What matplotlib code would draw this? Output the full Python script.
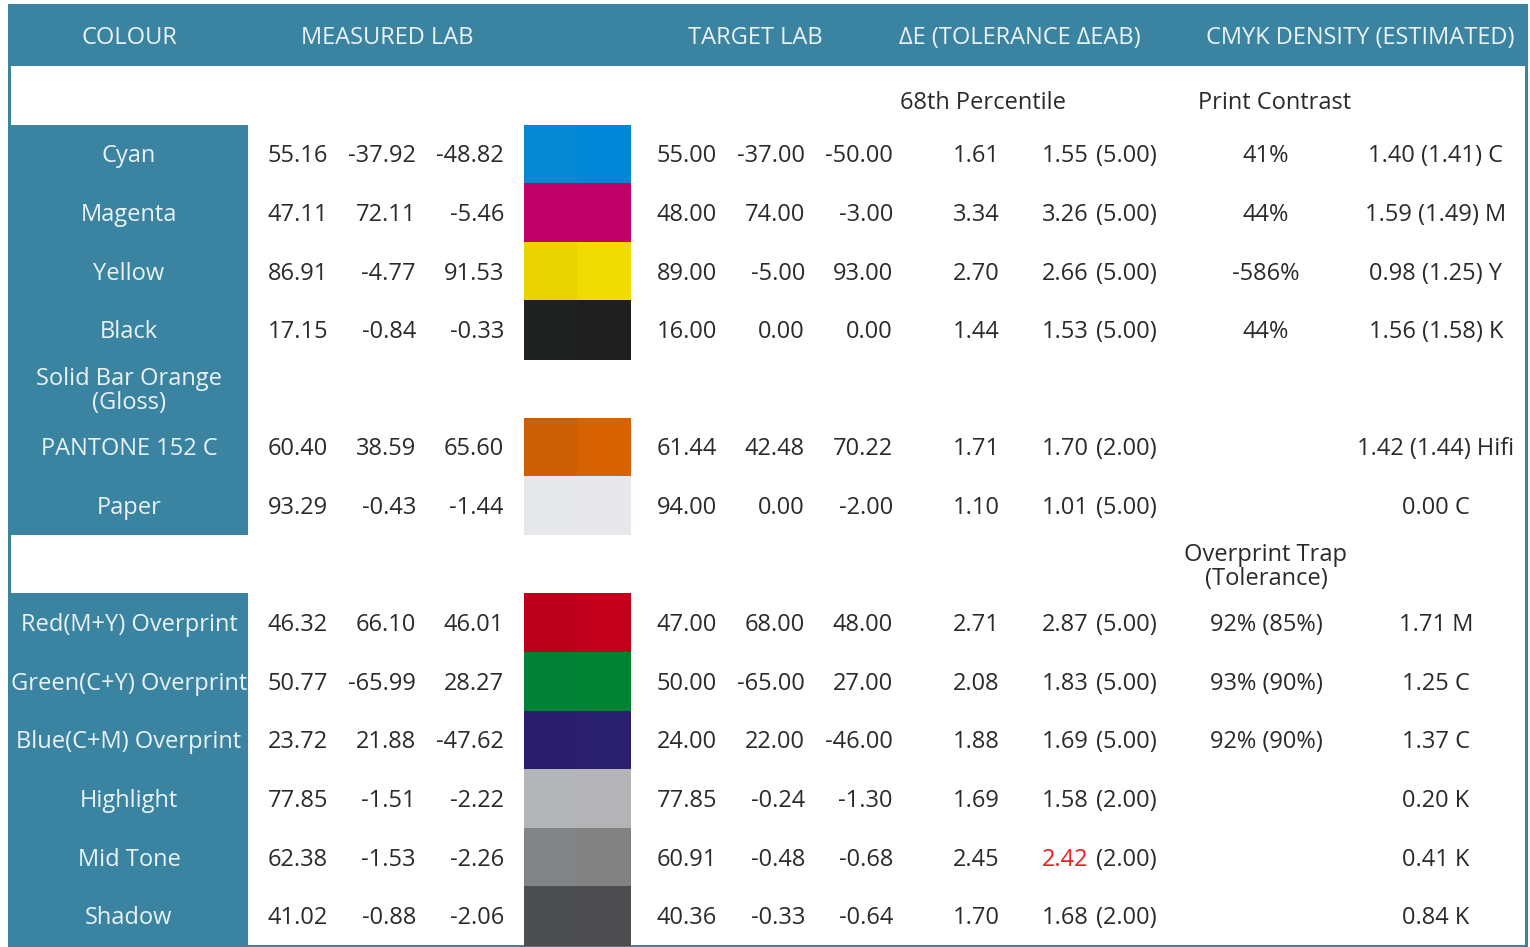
import matplotlib
matplotlib.use("Agg")
import matplotlib.pyplot as plt
from matplotlib.patches import Rectangle

plt.rcParams['font.family'] = ['Open Sans', 'DejaVu Sans']

# ---------------- data ----------------
headers = ["COLOUR", "MEASURED LAB", "TARGET LAB", "ΔE (TOLERANCE ΔEAB)", "CMYK DENSITY (ESTIMATED)"]
sub_top = ["68th Percentile", "Print Contrast"]
sub_mid = "Overprint Trap\n(Tolerance)"

row_labels = ["Cyan", "Magenta", "Yellow", "Black", "Solid Bar Orange\n(Gloss)", "PANTONE 152 C", "Paper",
              None,
              "Red(M+Y) Overprint", "Green(C+Y) Overprint", "Blue(C+M) Overprint", "Highlight", "Mid Tone", "Shadow"]

measured_L = [55.16, 47.11, 86.91, 17.15, None, 60.40, 93.29, None, 46.32, 50.77, 23.72, 77.85, 62.38, 41.02]
measured_a = [-37.92, 72.11, -4.77, -0.84, None, 38.59, -0.43, None, 66.10, -65.99, 21.88, -1.51, -1.53, -0.88]
measured_b = [-48.82, -5.46, 91.53, -0.33, None, 65.60, -1.44, None, 46.01, 28.27, -47.62, -2.22, -2.26, -2.06]
target_L = [55.00, 48.00, 89.00, 16.00, None, 61.44, 94.00, None, 47.00, 50.00, 24.00, 77.85, 60.91, 40.36]
target_a = [-37.00, 74.00, -5.00, 0.00, None, 42.48, 0.00, None, 68.00, -65.00, 22.00, -0.24, -0.48, -0.33]
target_b = [-50.00, -3.00, 93.00, 0.00, None, 70.22, -2.00, None, 48.00, 27.00, -46.00, -1.30, -0.68, -0.64]
delta_e68 = [1.61, 3.34, 2.70, 1.44, None, 1.71, 1.10, None, 2.71, 2.08, 1.88, 1.69, 2.45, 1.70]
delta_e = [1.55, 3.26, 2.66, 1.53, None, 1.70, 1.01, None, 2.87, 1.83, 1.69, 1.58, 2.42, 1.68]
tolerance = [5.00, 5.00, 5.00, 5.00, None, 2.00, 5.00, None, 5.00, 5.00, 5.00, 2.00, 2.00, 2.00]
contrast = ["41%", "44%", "-586%", "44%", "", "", "", "", "92% (85%)", "93% (90%)", "92% (90%)", "", "", ""]
density = ["1.40 (1.41) C", "1.59 (1.49) M", "0.98 (1.25) Y", "1.56 (1.58) K", "", "1.42 (1.44) Hifi", "0.00 C",
           "", "1.71 M", "1.25 C", "1.37 C", "0.20 K", "0.41 K", "0.84 K"]
measured_colour = ["#0788d2", "#bf0068", "#e8d400", "#202222", None, "#cc5e04", "#e6e7ea", None,
                   "#bc001c", "#008236", "#2a1e6c", "#b2b6b8", "#808486", "#4b4f51"]
target_colour = ["#0086d6", "#c1006a", "#f0dc00", "#1f1f1f", None, "#d86200", "#e8e8ec", None,
                 "#c2001c", "#008434", "#2a1f6e", "#b4b4b6", "#828282", "#4d4d4f"]

# ---------------- layout ----------------
W, H = 1530, 947
TEAL = "#3a84a2"
TXT = "#2a2a2a"
WTXT = "#eaf2f5"
FS = 17.0
DY = 2.5

fig = plt.figure(figsize=(W / 100, H / 100), dpi=100)
ax = fig.add_axes([0, 0, 1, 1])
ax.set_xlim(0, W)
ax.set_ylim(H, 0)
ax.axis('off')

left, right = 8, 1528
head_top, head_bot = 4, 66
bottom = 945
n_rows = 15
rh = (bottom - head_bot) / n_rows
col_right = 248

def row_top(i):
    return head_bot + rh * i

def row_mid(i):
    return row_top(i) + rh / 2 + DY

# header band
ax.add_patch(Rectangle((left, head_top), right - left, head_bot - head_top, color=TEAL, lw=0))
# borders
ax.add_patch(Rectangle((left, head_bot), 3, bottom - head_bot + 2, color=TEAL, lw=0))
ax.add_patch(Rectangle((right - 3, head_bot), 3, bottom - head_bot + 2, color=TEAL, lw=0))
ax.add_patch(Rectangle((left, bottom), right - left, 2, color=TEAL, lw=0))

header_x = [129, 387, 755, 1020, 1360]
for hx, h in zip(header_x, headers):
    ax.text(hx, 35 + DY, h, ha='center', va='center', color=WTXT, fontsize=FS)

ax.text(983, 100 + DY, sub_top[0], ha='center', va='center', color=TXT, fontsize=FS)
ax.text(1275, 100 + DY, sub_top[1], ha='center', va='center', color=TXT, fontsize=FS)

def multiline(x, yc, s, color, gap=24):
    lines = s.split("\n")
    n = len(lines)
    for k, ln in enumerate(lines):
        ax.text(x, yc + (k - (n - 1) / 2) * gap, ln, ha='center', va='center', color=color, fontsize=FS)

fig.canvas.draw()
renderer = fig.canvas.get_renderer()

meas_x = [328, 416, 504]
targ_x = [717, 805, 893]
de68_x = 1000
de_x = 1157
con_x = 1266
den_x = 1436
sw_l, sw_m, sw_r = 524, 577, 631

for k, lab in enumerate(row_labels):
    i = k + 1
    yt = row_top(i)
    ym = row_mid(i)
    if lab is None:
        multiline(con_x, ym, sub_mid, TXT)
        continue
    # colour label cell
    ax.add_patch(Rectangle((left, yt), col_right - left, rh + 0.5, color=TEAL, lw=0))
    multiline(129, ym, lab, WTXT)
    if measured_L[k] is None:
        continue
    for xx, v in zip(meas_x, (measured_L[k], measured_a[k], measured_b[k])):
        ax.text(xx, ym, f"{v:.2f}", ha='right', va='center', color=TXT, fontsize=FS)
    for xx, v in zip(targ_x, (target_L[k], target_a[k], target_b[k])):
        ax.text(xx, ym, f"{v:.2f}", ha='right', va='center', color=TXT, fontsize=FS)
    # swatches
    ax.add_patch(Rectangle((sw_l, yt), sw_m - sw_l, rh + 0.5, color=measured_colour[k], lw=0))
    ax.add_patch(Rectangle((sw_m, yt), sw_r - sw_m, rh + 0.5, color=target_colour[k], lw=0))
    # delta E
    ax.text(de68_x, ym, f"{delta_e68[k]:.2f}", ha='right', va='center', color=TXT, fontsize=FS)
    t = ax.text(de_x, ym, f"({tolerance[k]:.2f})", ha='right', va='center', color=TXT, fontsize=FS)
    bb = t.get_window_extent(renderer)
    vcol = "#ee1c1c" if delta_e[k] > tolerance[k] else TXT
    ax.text(bb.x0 - 7.5, ym, f"{delta_e[k]:.2f}", ha='right', va='center', color=vcol, fontsize=FS)
    if contrast[k]:
        ax.text(con_x, ym, contrast[k], ha='center', va='center', color=TXT, fontsize=FS)
    if density[k]:
        ax.text(den_x, ym, density[k], ha='center', va='center', color=TXT, fontsize=FS)

fig.savefig("out.png", dpi=100, facecolor="white")
